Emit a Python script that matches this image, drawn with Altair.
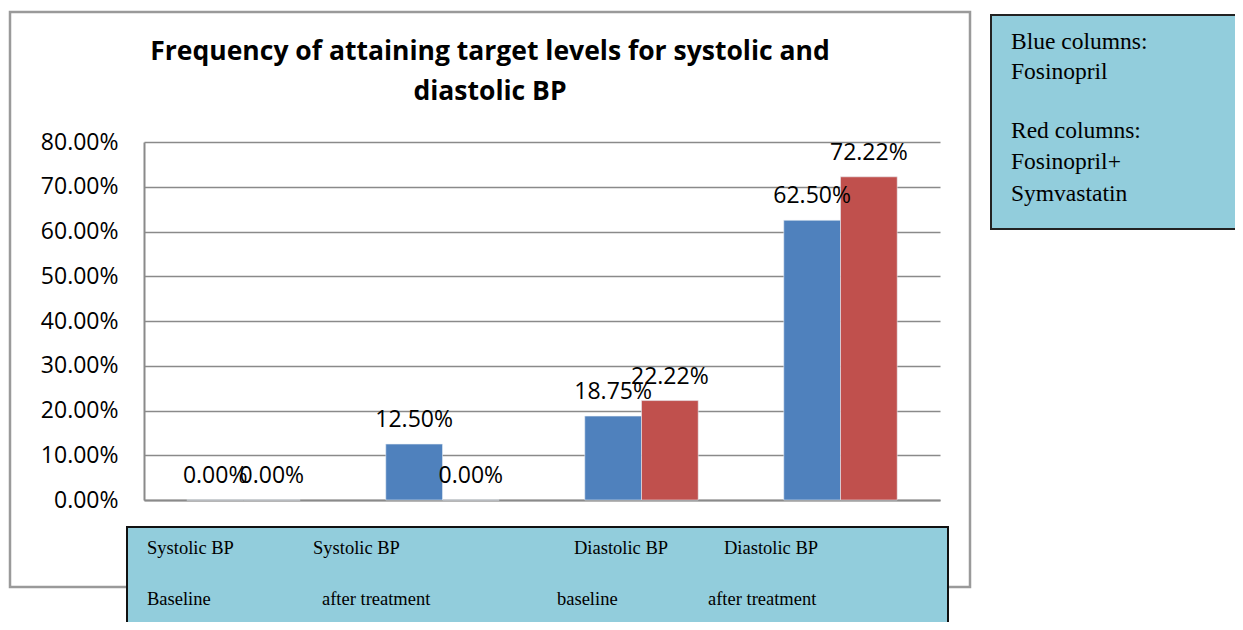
import altair as alt
import pandas as pd

# ---- data ----
categories = ["Systolic BP Baseline", "Systolic BP after treatment",
              "Diastolic BP baseline", "Diastolic BP after treatment"]
series = ["Fosinopril", "Fosinopril+Symvastatin"]
fosinopril = [0.0, 0.125, 0.1875, 0.625]
fosino_symva = [0.0, 0.0, 0.2222, 0.7222]
y_ticks = [0.0, 0.1, 0.2, 0.3, 0.4, 0.5, 0.6, 0.7, 0.8]
title_lines = ["Frequency of attaining target levels for systolic and", "diastolic BP"]
box_row1 = ["Systolic BP", "Systolic BP", "Diastolic BP", "Diastolic BP"]
box_row2 = ["Baseline", "after treatment", "baseline", "after treatment"]
legend_lines = ["Blue columns:", "Fosinopril", "Red columns:", "Fosinopril+", "Symvastatin"]
colors = ["#4F81BD", "#C0504D"]

rows = []
for c, a, b in zip(categories, fosinopril, fosino_symva):
    rows.append({"category": c, "series": series[0], "value": a})
    rows.append({"category": c, "series": series[1], "value": b})
df = pd.DataFrame(rows)

GRID = "#8a8a8a"
LABEL_FONT = "Open Sans"
SERIF = "Liberation Serif"
BOX_FILL = "#92CDDC"

one = alt.Data(values=[{"k": 1}])


def rect(x, y, x2, y2, **kw):
    return alt.Chart(one).mark_rect(**kw).encode(
        x=alt.value(x), y=alt.value(y), x2=alt.value(x2), y2=alt.value(y2))


def label(text, x, y, **kw):
    return alt.Chart(one).mark_text(**kw).encode(
        x=alt.value(x), y=alt.value(y), text=alt.value(text))


# outer chart frame
frame = rect(-134, -130, 826, 445, fill=None, stroke="#9a9a9a", strokeWidth=2.5)

base = alt.Chart(df).encode(
    x=alt.X("category:N", sort=categories,
            scale=alt.Scale(paddingInner=0.43, paddingOuter=0.215),
            axis=alt.Axis(labels=False, ticks=False, title=None, grid=False,
                          domainColor=GRID, domainWidth=2)),
    xOffset=alt.XOffset("series:N", sort=series),
    y=alt.Y("value:Q", scale=alt.Scale(domain=[0, 0.8], nice=False),
            axis=alt.Axis(values=y_ticks, format=".2%", title=None, ticks=False,
                          labelFont=LABEL_FONT, labelFontSize=23, labelColor="#000000",
                          labelPadding=26, domainColor=GRID, domainWidth=2,
                          gridColor=GRID, gridWidth=1.5)),
)

bars = base.mark_bar(stroke="#e8eef6", strokeWidth=0.8, strokeOpacity=0.7).encode(
    color=alt.Color("series:N", sort=series,
                    scale=alt.Scale(domain=series, range=colors), legend=None)
)

values = base.mark_text(dy=-24, font=LABEL_FONT, fontSize=23, color="#000000",
                        baseline="middle").encode(
    text=alt.Text("value:Q", format=".2%"))

layers = [frame, bars, values]

# title
for t, y in zip(title_lines, [-90, -50]):
    layers.append(label(t, 346, y, font=LABEL_FONT, fontSize=26.5, fontWeight="bold",
                        color="#000000", align="center", baseline="middle"))

# bottom category box
layers.append(rect(-17, 385, 804, 498, fill=BOX_FILL, stroke="#111111", strokeWidth=2))
for t, x in zip(box_row1, [3, 169, 430, 580]):
    layers.append(label(t, x, 406, font=SERIF, fontSize=18.5, color="#000000",
                        align="left", baseline="middle"))
for t, x in zip(box_row2, [3, 178, 413, 564]):
    layers.append(label(t, x, 457, font=SERIF, fontSize=18.5, color="#000000",
                        align="left", baseline="middle"))

# legend box
layers.append(rect(847, -127, 1116, 87, fill=BOX_FILL, stroke="#222222", strokeWidth=2))
for t, y in zip(legend_lines, [-100, -70, -11, 20, 52]):
    layers.append(label(t, 867, y, font=SERIF, fontSize=23.5, color="#000000",
                        align="left", baseline="middle"))

chart = alt.layer(*layers).properties(
    width=796, height=358,
    autosize=alt.AutoSizeParams(type="none"),
    padding={"left": 136, "top": 134, "right": 295, "bottom": 122},
    background="#ffffff",
).configure_view(stroke=None)

chart.save("out.html", embed_options={"renderer": "svg", "actions": False})
